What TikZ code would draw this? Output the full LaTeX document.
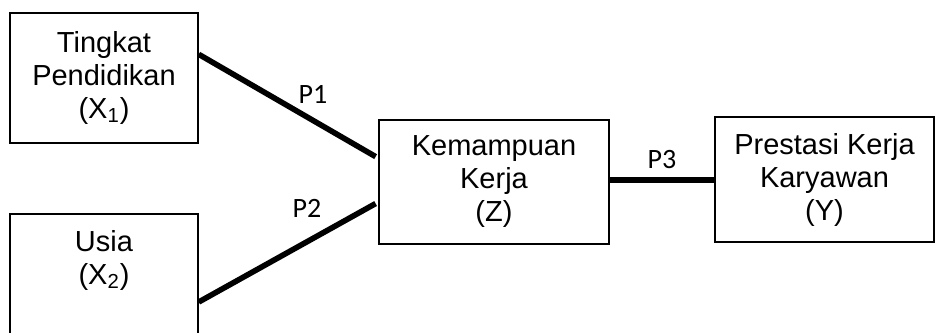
\documentclass[tikz,border=0pt]{standalone}
\usepackage{fontspec}
\setmainfont{Liberation Sans}
\newfontfamily\pathfont{Carlito}
\usetikzlibrary{calc}
\tikzset{
  varbox/.style={draw=black, line width=0.75pt, rectangle, inner sep=0pt,
    align=center, font=\fontsize{14.5}{16.5}\selectfont},
  pathline/.style={draw=black, line width=2.8pt},
  pathlabel/.style={inner sep=0pt, font=\pathfont\fontsize{14}{16}\selectfont}
}
\begin{document}
\begin{tikzpicture}[x=0.5pt, y=-0.5pt]
  \clip (0,0) rectangle (937,332);
  \fill[white] (0,0) rectangle (937,332);

  % variable boxes
  \node[varbox, minimum width=94pt, minimum height=65pt] (x1) at (104,78)
    {Tingkat\\Pendidikan\\(X\textsubscript{1})};
  \node[varbox, minimum width=94pt, minimum height=65pt, anchor=north] (x2) at (104,213) {};
  \node[inner sep=0pt, align=center, font=\fontsize{14.5}{16.5}\selectfont] (x2text) at (104,260)
    {Usia\\(X\textsubscript{2})};
  \node[varbox, minimum width=115pt, minimum height=62pt] (z) at (494,182)
    {Kemampuan\\Kerja\\(Z)};
  \node[varbox, minimum width=109.5pt, minimum height=62.5pt] (y) at (824.5,179.5)
    {Prestasi Kerja\\Karyawan\\(Y)};

  % path connectors
  \draw[pathline, shorten >=1.5pt]
    ($(x1.north east)!0.32!(x1.south east)$) -- ($(z.north west)!0.31!(z.south west)$);
  \draw[pathline, shorten >=1.5pt]
    ($(x2.north east)+(0,89)$) -- ($(z.north west)!0.66!(z.south west)$);
  \draw[pathline] ($(z.east)+(0,-2)$) -- ($(z.east -| y.west)+(0,-2)$);

  % path coefficients
  \node[pathlabel] (p1) at (313,94) {P1};
  \node[pathlabel] (p2) at (307,208) {P2};
  \node[pathlabel] (p3) at (662,160) {P3};
\end{tikzpicture}
\end{document}
